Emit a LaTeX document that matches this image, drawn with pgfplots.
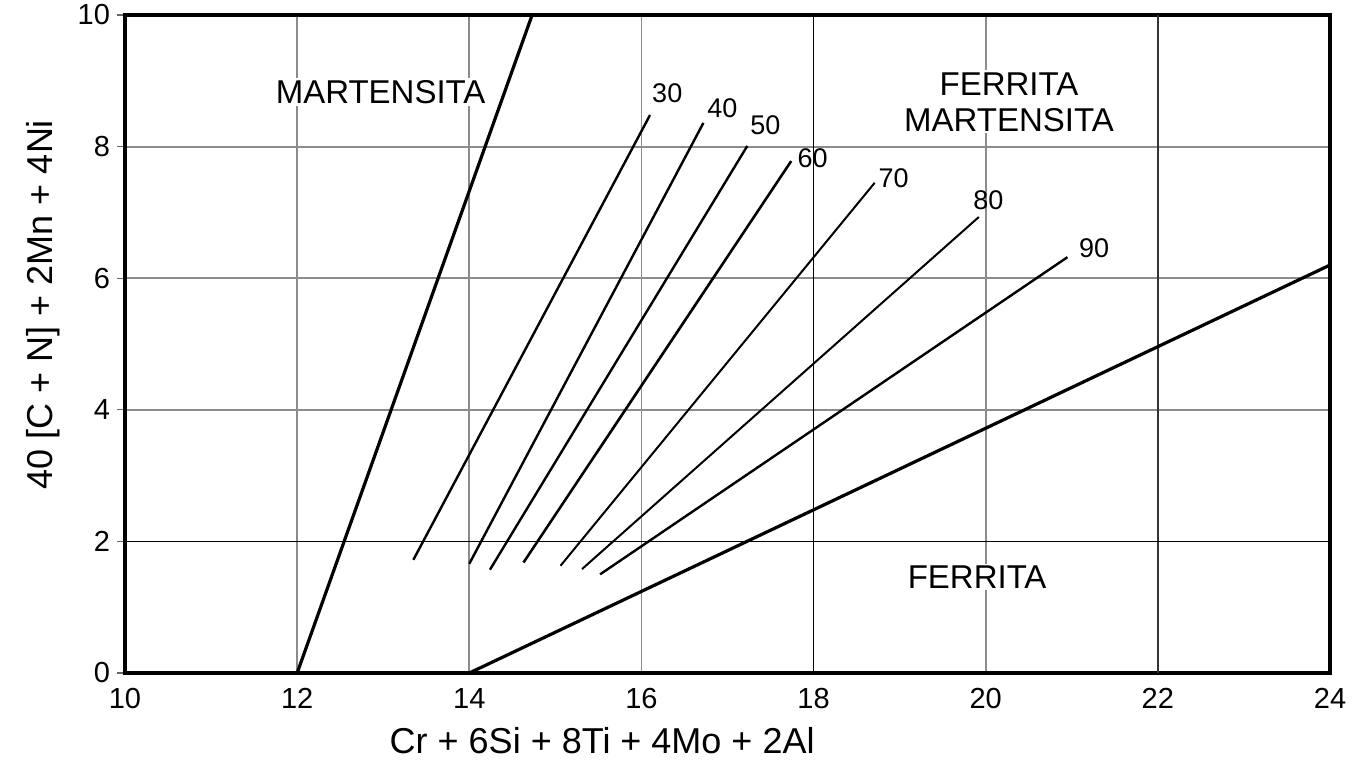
\documentclass[border=0pt]{standalone}
\usepackage{fontspec}
\setmainfont{Liberation Sans}
\usepackage{pgfplots}
\pgfplotsset{compat=1.18}
\begin{document}
\begin{tikzpicture}
\useasboundingbox (-62.5pt,-47.5pt) rectangle (616.5pt,336.5pt);
\begin{axis}[
  at={(0,0)}, anchor=south west,
  scale only axis, width=602.5pt, height=329pt,
  xmin=10, xmax=24, ymin=0, ymax=10,
  xtick={10,12,...,24}, ytick={0,2,...,10},
  ytick pos=left, xtick pos=bottom,
  grid=major,
  major grid style={black!45, line width=0.9pt},
  axis line style={line width=1.6pt},
  tick align=outside,
  xtick style={draw=none},
  ytick style={black!60, line width=0.6pt},
  major tick length=4pt,
  ticklabel style={font=\fontsize{14.5}{16}\selectfont},
  /pgf/number format/assume math mode=true,
  xlabel={Cr + 6Si + 8Ti + 4Mo + 2Al},
  ylabel={40 [C + N] + 2Mn + 4Ni},
  xlabel style={font=\fontsize{18}{20}\selectfont, at={(axis description cs:0.396,-0.102)}, anchor=center},
  ylabel style={font=\fontsize{18}{20}\selectfont, at={(axis description cs:-0.068,0.56)}, anchor=center},
  clip=false,
]
% darker grid lines
\addplot[black, line width=0.9pt, forget plot] coordinates {(18,0) (18,10)};
\addplot[black!80, line width=0.9pt, forget plot] coordinates {(22,0) (22,10)};
\addplot[black, line width=0.9pt, forget plot] coordinates {(10,2) (24,2)};
% boundary lines
\addplot[black, line width=1.6pt] coordinates {(12,0) (14.73,10)};
\addplot[black, line width=1.6pt] coordinates {(14,0) (24,6.2)};
% iso-ferrite lines
\addplot[black, line width=1.2pt] coordinates {(13.35,1.72) (16.10,8.48)};
\addplot[black, line width=1.2pt] coordinates {(14.00,1.66) (16.72,8.36)};
\addplot[black, line width=1.2pt] coordinates {(14.24,1.57) (17.23,8.01)};
\addplot[black, line width=1.3pt] coordinates {(14.63,1.68) (17.74,7.78)};
\addplot[black, line width=1.0pt] coordinates {(15.06,1.63) (18.71,7.45)};
\addplot[black, line width=1.0pt] coordinates {(15.31,1.58) (19.92,6.93)};
\addplot[black, line width=1.2pt] coordinates {(15.52,1.50) (20.95,6.32)};
% labels
\begin{scope}[every node/.style={font=\fontsize{13.5}{15}\selectfont, inner sep=0pt}]
\node at (axis cs:16.30,8.81) {30};
\node at (axis cs:16.94,8.59) {40};
\node at (axis cs:17.44,8.33) {50};
\node at (axis cs:17.99,7.83) {60};
\node at (axis cs:18.93,7.52) {70};
\node at (axis cs:20.03,7.19) {80};
\node at (axis cs:21.26,6.46) {90};
\end{scope}
\begin{scope}[every node/.style={font=\fontsize{16.5}{19}\selectfont, fill=white, inner sep=1pt, align=center}]
\node at (axis cs:12.97,8.83) {MARTENSITA};
\node at (axis cs:20.27,8.68) {FERRITA\\[-1pt]MARTENSITA};
\node at (axis cs:19.90,1.46) {FERRITA};
\end{scope}
\end{axis}
\end{tikzpicture}
\end{document}
